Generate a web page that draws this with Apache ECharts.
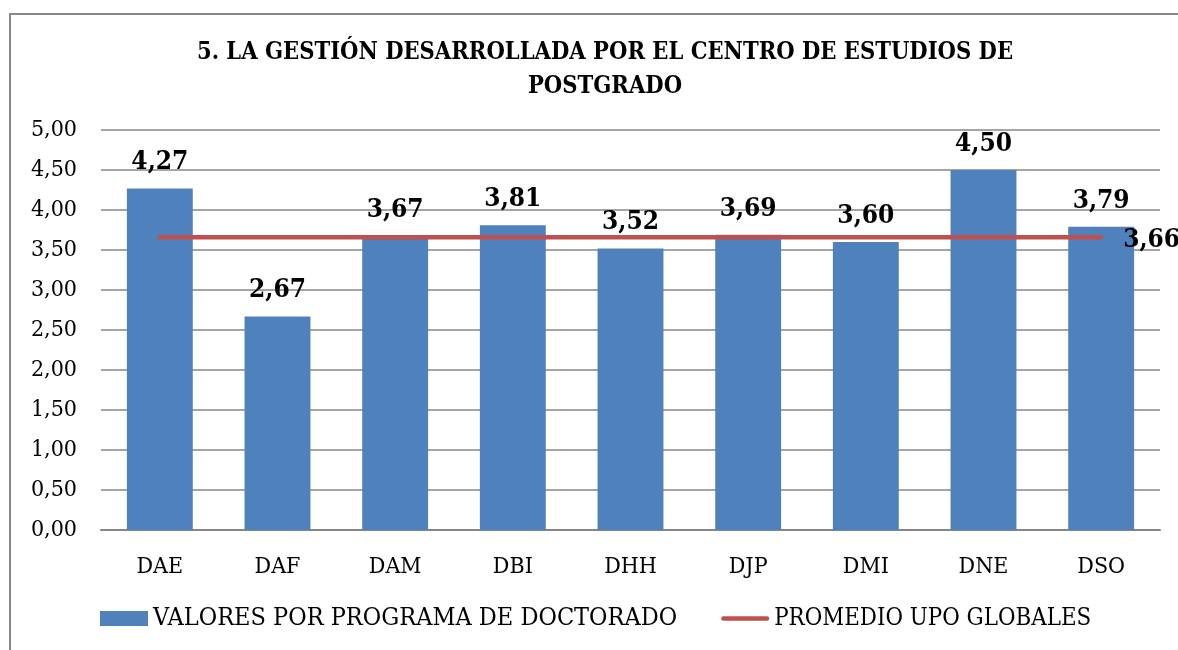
<!DOCTYPE html>
<html><head><meta charset="utf-8">
<script src="https://cdn.jsdelivr.net/npm/echarts@6/dist/echarts.min.js"></script>
<style>html,body{margin:0;padding:0;background:#fff}#c{width:1178px;height:650px}</style>
</head><body><div id="c"></div>
<script>
const categories = ['DAE','DAF','DAM','DBI','DHH','DJP','DMI','DNE','DSO'];
const programValues = [4.27, 2.67, 3.67, 3.81, 3.52, 3.69, 3.60, 4.50, 3.79];
const averageValues = [3.66, 3.66, 3.66, 3.66, 3.66, 3.66, 3.66, 3.66, 3.66];
const yTicks = { min: 0, max: 5, interval: 0.5 };
const titleText = '5. LA GESTIÓN DESARROLLADA POR EL CENTRO DE ESTUDIOS DE\nPOSTGRADO';
const seriesNames = ['VALORES POR PROGRAMA DE DOCTORADO', 'PROMEDIO UPO GLOBALES'];

const FONT = '"DejaVu Serif Condensed","DejaVu Serif",serif';
const fmt = v => v.toFixed(2).replace('.', ',');
const chart = echarts.init(document.getElementById('c'), null, {renderer:'canvas'});
chart.setOption({
  animation: false,
  backgroundColor: '#fff',
  graphic: [{
    type: 'rect', shape: {x: 10, y: 14, width: 1200, height: 700},
    style: {fill: 'none', stroke: '#878787', lineWidth: 2}, silent: true, z: -1
  }],
  title: {
    text: titleText, left: 600, top: 31, textAlign: 'center',
    textStyle: {fontFamily: FONT, fontWeight: 'bold', fontSize: 23.5, color: '#000', lineHeight: 34}
  },
  legend: {
    bottom: 14, left: 95, itemGap: 44, itemWidth: 48, itemHeight: 15,
    textStyle: {fontFamily: FONT, fontSize: 25, color: '#000'},
    data: [
      {name: seriesNames[0], icon: 'rect'},
      {name: seriesNames[1], icon: 'path://M2.5,0 L52.5,0 A2.5,2.5 0 0 1 52.5,5 L2.5,5 A2.5,2.5 0 0 1 2.5,0 Z',
       itemStyle: {color: '#C0504D'}, textStyle: {fontSize: 23.8}}
    ]
  },
  grid: {left: 101, right: 18, top: 130, bottom: 120},
  xAxis: {
    type: 'category', data: categories,
    axisLine: {lineStyle: {color: '#868686', width: 2}},
    axisTick: {show: false},
    axisLabel: {fontFamily: FONT, fontSize: 23, color: '#000', margin: 26}
  },
  yAxis: {
    type: 'value', min: yTicks.min, max: yTicks.max, interval: yTicks.interval,
    axisLine: {show: false}, axisTick: {show: false},
    axisLabel: {fontFamily: FONT, fontSize: 23, color: '#000', margin: 24, formatter: v => fmt(v)},
    splitLine: {lineStyle: {color: '#878787', width: 1.5}}
  },
  series: [{
    name: seriesNames[0], type: 'bar', data: programValues, barWidth: '56%',
    itemStyle: {color: '#4F81BD'},
    label: {show: true, position: 'top', distance: 13, fontFamily: FONT, fontWeight: 'bold', fontSize: 26, color: '#000', formatter: p => fmt(p.value)}
  }, {
    name: seriesNames[1], type: 'line', data: averageValues, symbol: 'none',
    lineStyle: {color: '#C0504D', width: 4.5, cap: 'round'},
    itemStyle: {color: '#C0504D'},
    z: 3,
    endLabel: {show: true, distance: 22, offset: [0, 3], fontFamily: FONT, fontWeight: 'bold', fontSize: 26, color: '#000',
      formatter: p => fmt(p.value)}
  }]
});
</script></body></html>
